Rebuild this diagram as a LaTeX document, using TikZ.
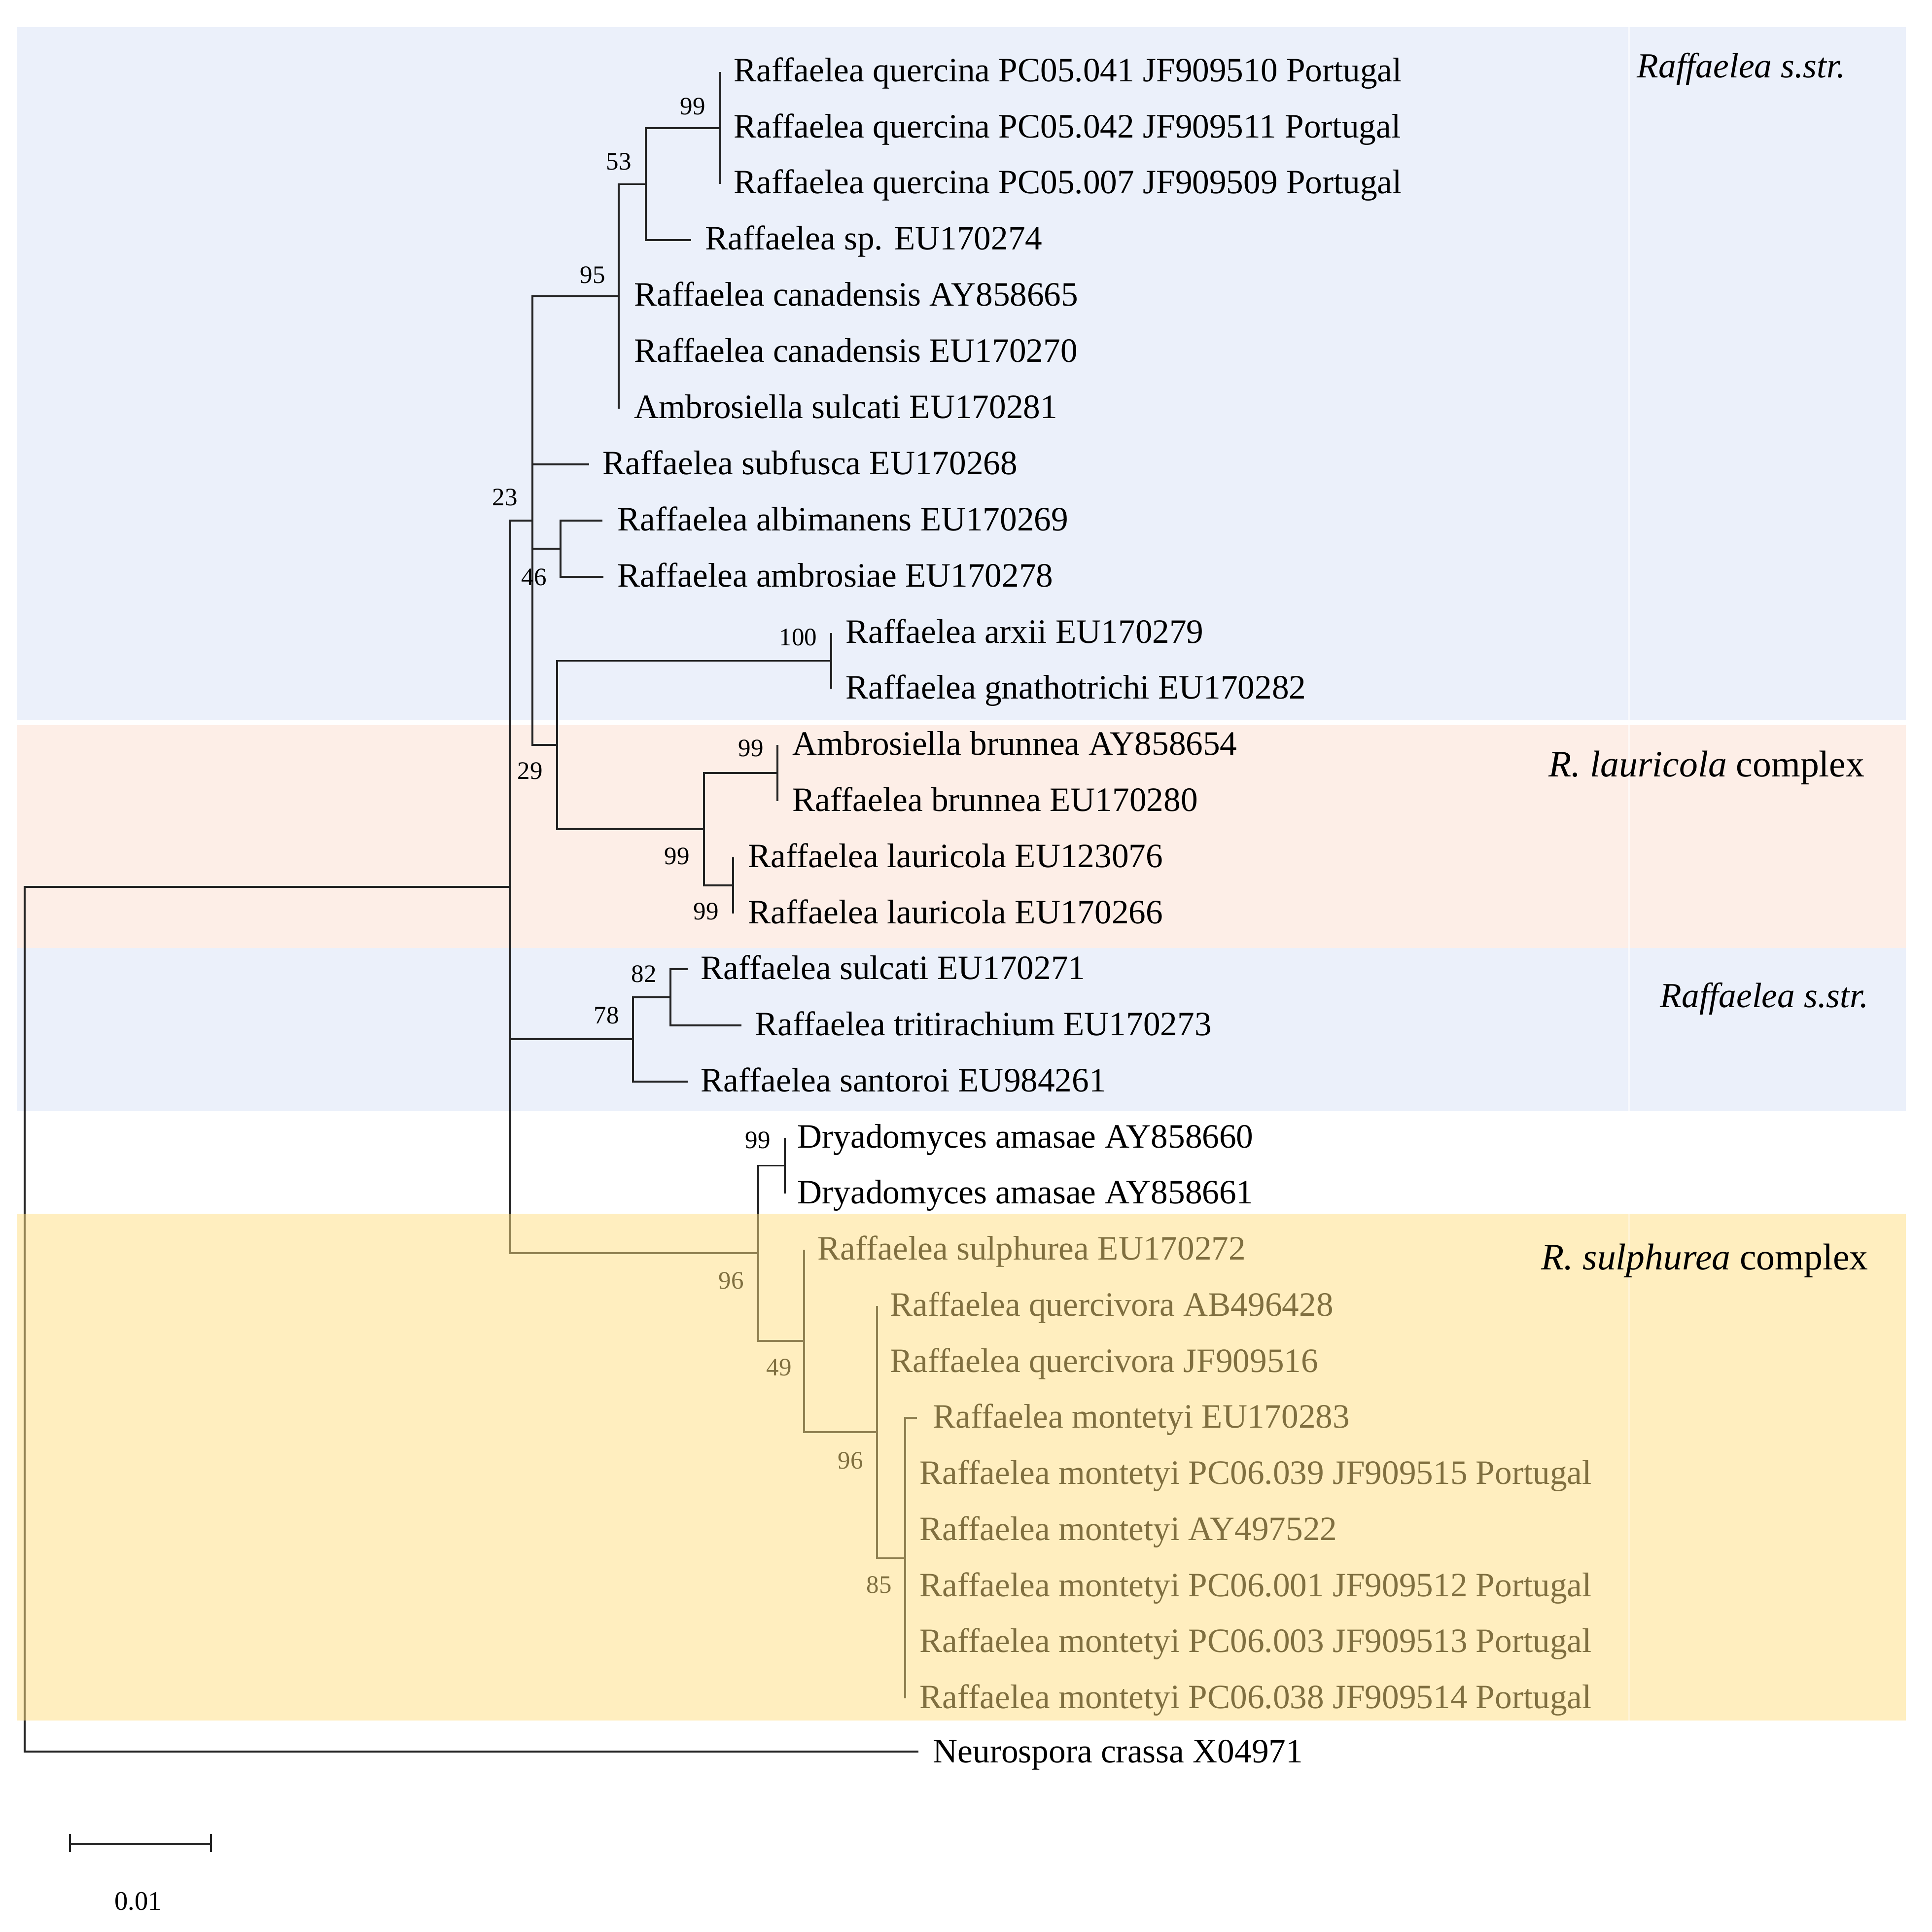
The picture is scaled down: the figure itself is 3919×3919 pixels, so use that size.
\documentclass[tikz,border=0pt]{standalone}
\usepackage{fontspec}
\setmainfont{Liberation Serif}
\definecolor{bandblue}{RGB}{235,240,250}
\definecolor{bandpink}{RGB}{253,238,231}
\definecolor{bandyel}{RGB}{255,223,129}
\definecolor{linec}{RGB}{35,35,35}
\tikzset{
  br/.style={draw=linec, line width=1pt},
  tip/.style={anchor=base west, inner sep=0pt, font=\fontsize{19.7}{24}\selectfont},
  bs/.style={inner sep=0pt, font=\fontsize{14.5}{17}\selectfont},
  grp/.style={anchor=base west, inner sep=0pt, font=\fontsize{20.3}{24}\selectfont},
  grpc/.style={anchor=base west, inner sep=0pt, font=\fontsize{21.5}{25}\selectfont},
}
\begin{document}
\begin{tikzpicture}[x=0.01cm, y=-0.01cm]
\useasboundingbox (0,0) rectangle (3919,3919);
\fill[white] (0,0) rectangle (3919,3919);
% background bands (behind)
\fill[bandblue] (35,55) rectangle (3866,1461);
\fill[bandpink] (35,1471) rectangle (3866,1923);
\fill[bandblue] (35,1923) rectangle (3866,2254);

% internal nodes
\coordinate (R) at (50,2676);
\coordinate (ING) at (1035,1799);
\coordinate (nA) at (1080,1056);
\coordinate (n95) at (1255,601);
\coordinate (n53) at (1310,373.5);
\coordinate (n99) at (1461,260);
\coordinate (n46) at (1137,1113);
\coordinate (n29) at (1130,1511);
\coordinate (nArx) at (1686,1340.5);
\coordinate (nBL) at (1428,1682);
\coordinate (nBr) at (1577,1568);
\coordinate (nLa) at (1487,1796);
\coordinate (n78) at (1284,2108);
\coordinate (n82) at (1360,2023);
\coordinate (n96) at (1538,2542);
\coordinate (nDr) at (1592,2364.5);
\coordinate (n49) at (1631,2720);
\coordinate (n96b) at (1779,2905);
\coordinate (n85) at (1836,3160.5);
% tip ends
\coordinate (t1) at (1461,146);
\coordinate (t2) at (1461,260);
\coordinate (t3) at (1461,373);
\coordinate (t4) at (1402,487);
\coordinate (t5) at (1255,601);
\coordinate (t6) at (1255,715);
\coordinate (t7) at (1255,829);
\coordinate (t8) at (1195,942);
\coordinate (t9) at (1222,1056);
\coordinate (t10) at (1224,1170);
\coordinate (t11) at (1686,1284);
\coordinate (t12) at (1686,1397);
\coordinate (t13) at (1577,1511);
\coordinate (t14) at (1577,1625);
\coordinate (t15) at (1487,1739);
\coordinate (t16) at (1487,1853);
\coordinate (t17) at (1395,1966);
\coordinate (t18) at (1504,2080);
\coordinate (t19) at (1395,2194);
\coordinate (t20) at (1592,2308);
\coordinate (t21) at (1592,2421);
\coordinate (t22) at (1631,2535);
\coordinate (t23) at (1779,2649);
\coordinate (t24) at (1779,2763);
\coordinate (t25) at (1860,2876);
\coordinate (t26) at (1836,2990);
\coordinate (t27) at (1836,3104);
\coordinate (t28) at (1836,3218);
\coordinate (t29) at (1836,3331);
\coordinate (t30) at (1836,3445);
\coordinate (t31) at (1863,3553);

% branches
\draw[br] (R) |- (ING);
\draw[br] (R) |- (t31);
\draw[br] (ING) |- (nA);
\draw[br] (ING) |- (n78);
\draw[br] (ING) |- (n96);
\draw[br] (nA) |- (n95);
\draw[br] (nA) |- (t8);
\draw[br] (nA) |- (n46);
\draw[br] (nA) |- (n29);
\draw[br] (n95) |- (n53);
\draw[br] (n95) |- (t7);
\draw[br] (n53) |- (n99);
\draw[br] (n53) |- (t4);
\draw[br] (n99) |- (t1);
\draw[br] (n99) |- (t3);
\draw[br] (n46) |- (t9);
\draw[br] (n46) |- (t10);
\draw[br] (n29) |- (nArx);
\draw[br] (n29) |- (nBL);
\draw[br] (nArx) |- (t11);
\draw[br] (nArx) |- (t12);
\draw[br] (nBL) |- (nBr);
\draw[br] (nBL) |- (nLa);
\draw[br] (nBr) |- (t13);
\draw[br] (nBr) |- (t14);
\draw[br] (nLa) |- (t15);
\draw[br] (nLa) |- (t16);
\draw[br] (n78) |- (n82);
\draw[br] (n78) |- (t19);
\draw[br] (n82) |- (t17);
\draw[br] (n82) |- (t18);
\draw[br] (n96) |- (nDr);
\draw[br] (n96) |- (n49);
\draw[br] (nDr) |- (t20);
\draw[br] (nDr) |- (t21);
\draw[br] (n49) |- (t22);
\draw[br] (n49) |- (n96b);
\draw[br] (n96b) |- (t23);
\draw[br] (n96b) |- (n85);
\draw[br] (n85) |- (t25);
\draw[br] (n85) |- (t30);

% tip labels
\node[tip] (L1) at (1488,166) {Raffaelea quercina PC05.041 JF909510 Portugal};
\node[tip] (L2) at (1488,280) {Raffaelea quercina PC05.042 JF909511 Portugal};
\node[tip] (L3) at (1488,393) {Raffaelea quercina PC05.007 JF909509 Portugal};
\node[tip] (L4) at (1430,507) {Raffaelea sp. EU170274};
\node[tip] (L5) at (1286,621) {Raffaelea canadensis AY858665};
\node[tip] (L6) at (1286,735) {Raffaelea canadensis EU170270};
\node[tip] (L7) at (1286,849) {Ambrosiella sulcati EU170281};
\node[tip] (L8) at (1222,962) {Raffaelea subfusca EU170268};
\node[tip] (L9) at (1252,1076) {Raffaelea albimanens EU170269};
\node[tip] (L10) at (1252,1190) {Raffaelea ambrosiae EU170278};
\node[tip] (L11) at (1715,1304) {Raffaelea arxii EU170279};
\node[tip] (L12) at (1715,1417) {Raffaelea gnathotrichi EU170282};
\node[tip] (L13) at (1607,1531) {Ambrosiella brunnea AY858654};
\node[tip] (L14) at (1607,1645) {Raffaelea brunnea EU170280};
\node[tip] (L15) at (1517,1759) {Raffaelea lauricola EU123076};
\node[tip] (L16) at (1517,1873) {Raffaelea lauricola EU170266};
\node[tip] (L17) at (1421,1986) {Raffaelea sulcati EU170271};
\node[tip] (L18) at (1531,2100) {Raffaelea tritirachium EU170273};
\node[tip] (L19) at (1421,2214) {Raffaelea santoroi EU984261};
\node[tip] (L20) at (1617,2328) {Dryadomyces amasae AY858660};
\node[tip] (L21) at (1617,2441) {Dryadomyces amasae AY858661};
\node[tip] (L22) at (1658,2555) {Raffaelea sulphurea EU170272};
\node[tip] (L23) at (1805,2669) {Raffaelea quercivora AB496428};
\node[tip] (L24) at (1805,2783) {Raffaelea quercivora JF909516};
\node[tip] (L25) at (1892,2896) {Raffaelea montetyi EU170283};
\node[tip] (L26) at (1865,3010) {Raffaelea montetyi PC06.039 JF909515 Portugal};
\node[tip] (L27) at (1865,3124) {Raffaelea montetyi AY497522};
\node[tip] (L28) at (1865,3238) {Raffaelea montetyi PC06.001 JF909512 Portugal};
\node[tip] (L29) at (1865,3351) {Raffaelea montetyi PC06.003 JF909513 Portugal};
\node[tip] (L30) at (1865,3465) {Raffaelea montetyi PC06.038 JF909514 Portugal};
\node[tip] (L31) at (1892,3575) {Neurospora crassa X04971};

% bootstrap values
\node[bs] (b99a) at (1405,216) {99};
\node[bs] (b53) at (1255,328) {53};
\node[bs] (b95) at (1202,558) {95};
\node[bs] (b23) at (1024,1009) {23};
\node[bs] (b46) at (1083,1171) {46};
\node[bs] (b100) at (1619,1293) {100};
\node[bs] (b99b) at (1523,1518) {99};
\node[bs] (b29) at (1075,1564) {29};
\node[bs] (b99c) at (1373,1737) {99};
\node[bs] (b99d) at (1432,1849) {99};
\node[bs] (b82) at (1306,1976) {82};
\node[bs] (b78) at (1230,2060) {78};
\node[bs] (b99e) at (1537,2313) {99};
\node[bs] (b96a) at (1483,2598) {96};
\node[bs] (b49) at (1580,2774) {49};
\node[bs] (b96b) at (1725,2963) {96};
\node[bs] (b85) at (1783,3215) {85};

% yellow band as a translucent overlay
\fill[bandyel, fill opacity=0.5] (35,2462) rectangle (3866,3490);
% faint column divider
\draw[white, line width=0.9pt, opacity=0.6] (3304,55) -- (3304,2254);
\draw[white, line width=0.9pt, opacity=0.35] (3304,2462) -- (3304,3490);

% group labels
\node[grp] (G1) at (3320,158) {\itshape Raffaelea s.str.};
\node[grpc] (G2) at (3141,1575) {\textit{R. lauricola} complex};
\node[grp] (G3) at (3367,2043) {\itshape Raffaelea s.str.};
\node[grpc] (G4) at (3126,2575) {\textit{R. sulphurea} complex};

% scale bar
\coordinate (s1) at (142,3740);
\coordinate (s2) at (428,3740);
\coordinate (s1u) at (142,3720);
\coordinate (s1d) at (142,3757);
\coordinate (s2u) at (428,3720);
\coordinate (s2d) at (428,3757);
\draw[br, line width=1.1pt] (s1) -- (s2);
\draw[br, line width=1.1pt] (s1u) -- (s1d);
\draw[br, line width=1.1pt] (s2u) -- (s2d);
\node[inner sep=0pt, font=\fontsize{15.5}{18}\selectfont] (SL) at (280,3857) {0.01};
\end{tikzpicture}
\end{document}
